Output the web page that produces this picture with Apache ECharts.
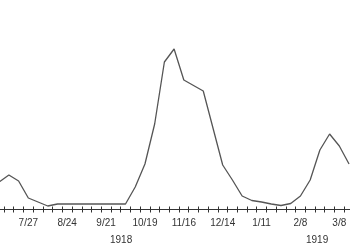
<!DOCTYPE html>
<html>
<head>
<meta charset="utf-8">
<script src="https://cdn.jsdelivr.net/npm/echarts@6/dist/echarts.min.js"></script>
<style>html,body{margin:0;padding:0;background:#fff;overflow:hidden}#c{width:362px;height:250px;position:absolute;left:-6px;top:0}</style>
</head>
<body>
<div id="c"></div>
<script>
var weeks = ['7/6','7/13','7/20','7/27','8/3','8/10','8/17','8/24','8/31','9/7','9/14','9/21','9/28','10/5','10/12','10/19','10/26','11/2','11/9','11/16','11/23','11/30','12/7','12/14','12/21','12/28','1/4','1/11','1/18','1/25','2/1','2/8','2/15','2/22','3/1','3/8','3/15'];
var values = [27.5,34.5,28.5,11.5,7.5,3.5,5.5,5.5,5.5,5.5,5.5,5.5,5.5,5.5,22.5,45.5,85.5,147.5,160.5,129.5,124,118.5,81.5,44.5,29.5,13.5,9,7.5,5.5,4,6,13.5,29.5,59.5,75.5,63.5,45.5];
var years = ['1918','1919'];
var labelEvery = 4, labelStart = 3;

var chart = echarts.init(document.getElementById('c'), null, {renderer:'canvas'});
var FONT = 'Liberation Sans, Arial, sans-serif';
chart.setOption({
  animation:false,
  grid:{left:0.3, width:359.6, top:9.5, bottom:40.5, containLabel:false},
  xAxis:[{
    type:'category', data:weeks, boundaryGap:true,
    axisLine:{lineStyle:{color:'#333', width:1}},
    axisTick:{show:true, interval:0, length:3, lineStyle:{color:'#333', width:1}},
    axisLabel:{interval:function(i){return (i-labelStart)%labelEvery===0;}, color:'#333', fontSize:10, fontFamily:FONT, margin:9}
  },{
    type:'category', data:weeks, boundaryGap:true, position:'bottom', gridIndex:0,
    axisLine:{show:false},
    axisTick:{show:true, inside:true, interval:0, length:3, lineStyle:{color:'#333', width:1}},
    axisLabel:{show:false}
  }],
  yAxis:{type:'value', min:0, max:200, show:false, splitLine:{show:false}},
  series:[{
    type:'line', data:values, xAxisIndex:0, symbol:'none',
    lineStyle:{color:'#555', width:1.3}
  }],
  graphic:[
    {type:'text', left:116, top:235, style:{text:years[0], fill:'#333', font:'10px '+FONT}},
    {type:'text', left:312, top:235, style:{text:years[1], fill:'#333', font:'10px '+FONT}}
  ]
});
</script>
</body>
</html>
